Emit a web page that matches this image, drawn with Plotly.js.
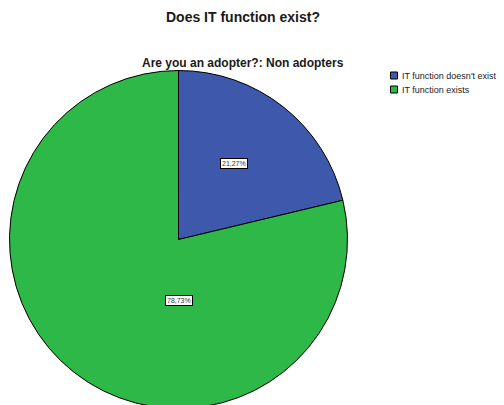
<!DOCTYPE html>
<html>
<head>
<meta charset="utf-8">
<script src="https://cdn.plot.ly/plotly-3.0.1.min.js"></script>
<style>
  html, body { margin: 0; padding: 0; overflow: hidden; background: #fff; }
  #chart { width: 504px; height: 420px; }
</style>
</head>
<body>
<div id="chart"></div>
<script>
// Share of respondents (non adopters) by existence of an IT function
const categories = ["IT function doesn't exist", "IT function exists"];
const shares = [21.27, 78.73];
const sliceColors = ["#3E58AC", "#2EB848"];
const chartTitle = "Does IT function exist?";
const panelTitle = "Are you an adopter?: Non adopters";

const W = 504, H = 420;
const FONT = "Arial, 'Liberation Sans', sans-serif";
const px = x => x / W;            // pixel -> paper x
const py = y => 1 - y / H;        // pixel -> paper y

// pie geometry (pixels)
const cx = 178.5, cy = 239.5, R = 169;

// value label placement: angle from 12 o'clock (deg, clockwise) and distance from centre
const labelPlacement = [
  { ang: 36, dist: 94 },
  { ang: 180, dist: 60.5 }
];

const fmt = v => v.toFixed(2).replace('.', ',') + '%';

const annotations = [];
annotations.push({
  text: '<b>' + panelTitle + '</b>', xref: 'paper', yref: 'paper',
  x: px(243), y: py(63), xanchor: 'center', yanchor: 'middle', showarrow: false,
  font: { family: FONT, size: 12, color: '#1a1a1a' }
});
shares.forEach((v, i) => {
  const a = labelPlacement[i].ang * Math.PI / 180, d = labelPlacement[i].dist;
  annotations.push({
    text: fmt(v), xref: 'paper', yref: 'paper',
    x: px(cx + d * Math.sin(a)), y: py(cy - d * Math.cos(a)),
    xanchor: 'center', yanchor: 'middle', showarrow: false,
    font: { family: FONT, size: 7, color: '#333' },
    bgcolor: '#ffffff', bordercolor: '#000000', borderwidth: 1, borderpad: 1
  });
});

// legend: swatch + label per category
const shapes = [];
categories.forEach((c, i) => {
  const top = 72 + i * 14;
  shapes.push({
    type: 'rect', xref: 'paper', yref: 'paper',
    x0: px(390.5), x1: px(397.5), y0: py(top + 7), y1: py(top),
    fillcolor: sliceColors[i], line: { color: '#000', width: 1 }
  });
  annotations.push({
    text: c, xref: 'paper', yref: 'paper',
    x: px(400), y: py(top + 3.5), xanchor: 'left', yanchor: 'middle', showarrow: false,
    font: { family: FONT, size: 9, color: '#1a1a1a' }
  });
});

const trace = {
  type: 'pie',
  labels: categories,
  values: shares,
  sort: false,
  direction: 'clockwise',
  rotation: 0,
  textinfo: 'none',
  hoverinfo: 'label+percent',
  marker: { colors: sliceColors, line: { color: '#000000', width: 1 } },
  domain: { x: [px(cx - R), px(cx + R)], y: [py(cy + R), py(cy - R)] },
  showlegend: false
};

const layout = {
  width: W, height: H,
  margin: { l: 0, r: 0, t: 0, b: 0 },
  paper_bgcolor: '#ffffff',
  title: {
    text: '<b>' + chartTitle + '</b>',
    x: px(243), xanchor: 'center', xref: 'paper',
    y: py(17), yanchor: 'middle', yref: 'container',
    font: { family: FONT, size: 14, color: '#1a1a1a' }
  },
  annotations: annotations,
  shapes: shapes,
  showlegend: false
};

Plotly.newPlot('chart', [trace], layout, { displayModeBar: false, staticPlot: true });
</script>
</body>
</html>
